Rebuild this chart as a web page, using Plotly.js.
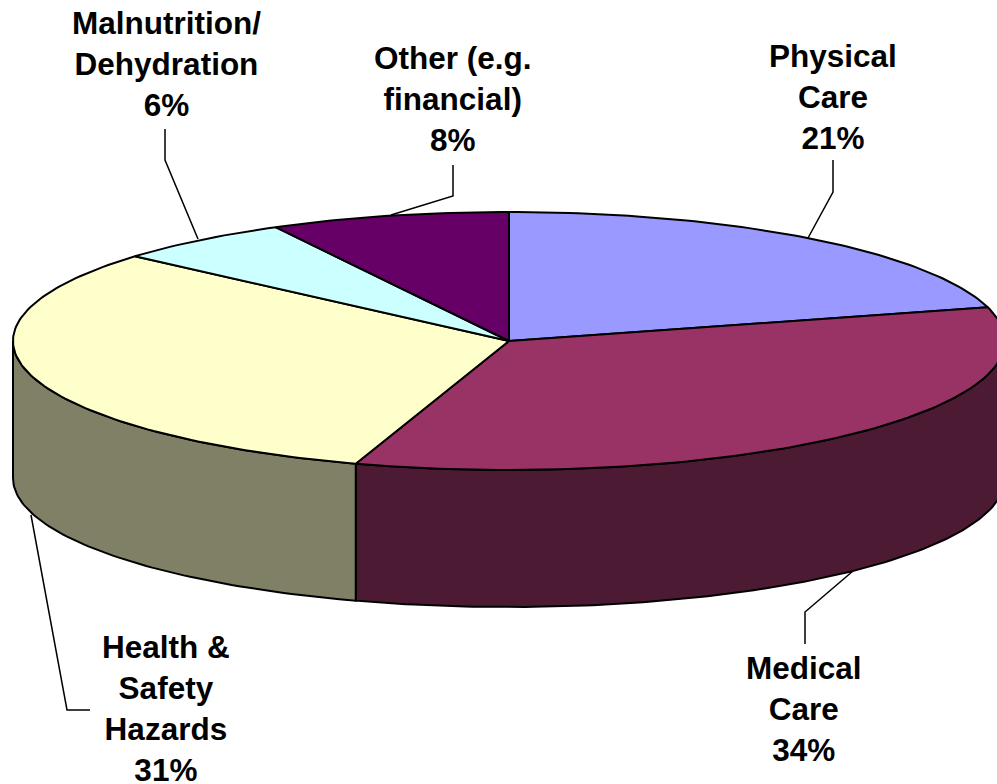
<!DOCTYPE html>
<html>
<head>
<meta charset="utf-8">
<script src="https://cdn.plot.ly/plotly-3.0.1.min.js"></script>
<style>html,body{margin:0;padding:0;background:#fff;overflow:hidden}#chart{width:997px;height:784px}</style>
</head>
<body>
<div id="chart"></div>
<script>
// Data
const categories = ['Physical<br>Care', 'Medical<br>Care', 'Health &<br>Safety<br>Hazards', 'Malnutrition/<br>Dehydration', 'Other (e.g.<br>financial)'];
const shares = [20.8, 34.2, 31.4, 5.8, 7.8];
const topColors = ['#9999FF', '#993366', '#FFFFCC', '#CCFFFF', '#660066'];
const wallColors = ['#4D4D80', '#4D1A33', '#808066', '#668080', '#330033'];

// Projection of the tilted disc in pixel-scaled axis units
const cx = 509, cy = 341, rx = 496, ry = 129, depth = 137;
const px = a => cx + rx * Math.sin(a * Math.PI / 180);
const py = a => cy - ry * Math.cos(a * Math.PI / 180);
const arc = (a0, a1) => {
  const out = [], n = Math.max(2, Math.ceil(Math.abs(a1 - a0)));
  for (let i = 0; i <= n; i++) out.push(a0 + (a1 - a0) * i / n);
  return out;
};

const total = shares.reduce((s, v) => s + v, 0);
let cum = 0;
const spans = shares.map(v => { const a0 = cum / total * 360; cum += v; return [a0, cum / total * 360]; });
const outline = {color: '#000', width: 2};
const traces = [];

// side walls: only the front half of the rim (90 to 270 degrees) shows
spans.forEach((s, i) => {
  const a0 = Math.max(s[0], 90), a1 = Math.min(s[1], 270);
  if (a1 <= a0) return;
  const fwd = arc(a0, a1), back = arc(a1, a0);
  traces.push({
    type: 'scatter', mode: 'lines', fill: 'toself', fillcolor: wallColors[i], line: outline,
    x: fwd.map(px).concat(back.map(px), [px(a0)]),
    y: fwd.map(py).concat(back.map(a => py(a) + depth), [py(a0)]),
    hoverinfo: 'skip', showlegend: false
  });
});

// top faces
spans.forEach((s, i) => {
  const pts = arc(s[0], s[1]);
  traces.push({
    type: 'scatter', mode: 'lines', fill: 'toself', fillcolor: topColors[i], line: outline,
    x: [cx].concat(pts.map(px), [cx]),
    y: [cy].concat(pts.map(py), [cy]),
    name: categories[i].replace(/<br>/g, ' '),
    hoverinfo: 'skip', showlegend: false
  });
});

// leader lines, one per category
const leaderX = [[833, 833, 808], [805, 805, 853], [90, 67, 31], [165, 165, 198], [453, 453, 391]];
const leaderY = [[160, 192, 238], [644, 612, 571], [710, 710, 515], [129, 160, 239], [165, 196, 215]];
leaderX.forEach((xs, i) => traces.push({
  type: 'scatter', mode: 'lines', x: xs, y: leaderY[i],
  line: {color: '#000', width: 1.5}, hoverinfo: 'skip', showlegend: false
}));

// labels
const labelX = [833, 804, 166, 166, 453];
const labelY = [97, 709, 708, 64, 99];
const annotations = categories.map((c, i) => ({
  x: labelX[i], y: labelY[i], xref: 'x', yref: 'y', showarrow: false,
  xanchor: 'center', yanchor: 'middle', align: 'center',
  text: c + '<br>' + Math.round(shares[i]) + '%',
  font: {family: '"Liberation Sans", Arial, sans-serif', size: 31.5, color: '#000', weight: 700}
}));

const hidden = {visible: false, fixedrange: true};
Plotly.newPlot('chart', traces, {
  width: 997, height: 784,
  margin: {l: 0, r: 0, t: 0, b: 0},
  paper_bgcolor: '#fff', plot_bgcolor: '#fff',
  xaxis: Object.assign({range: [0, 997]}, hidden),
  yaxis: Object.assign({range: [784, 0]}, hidden),
  annotations: annotations,
  showlegend: false
}, {displayModeBar: false, staticPlot: true});
</script>
</body>
</html>
